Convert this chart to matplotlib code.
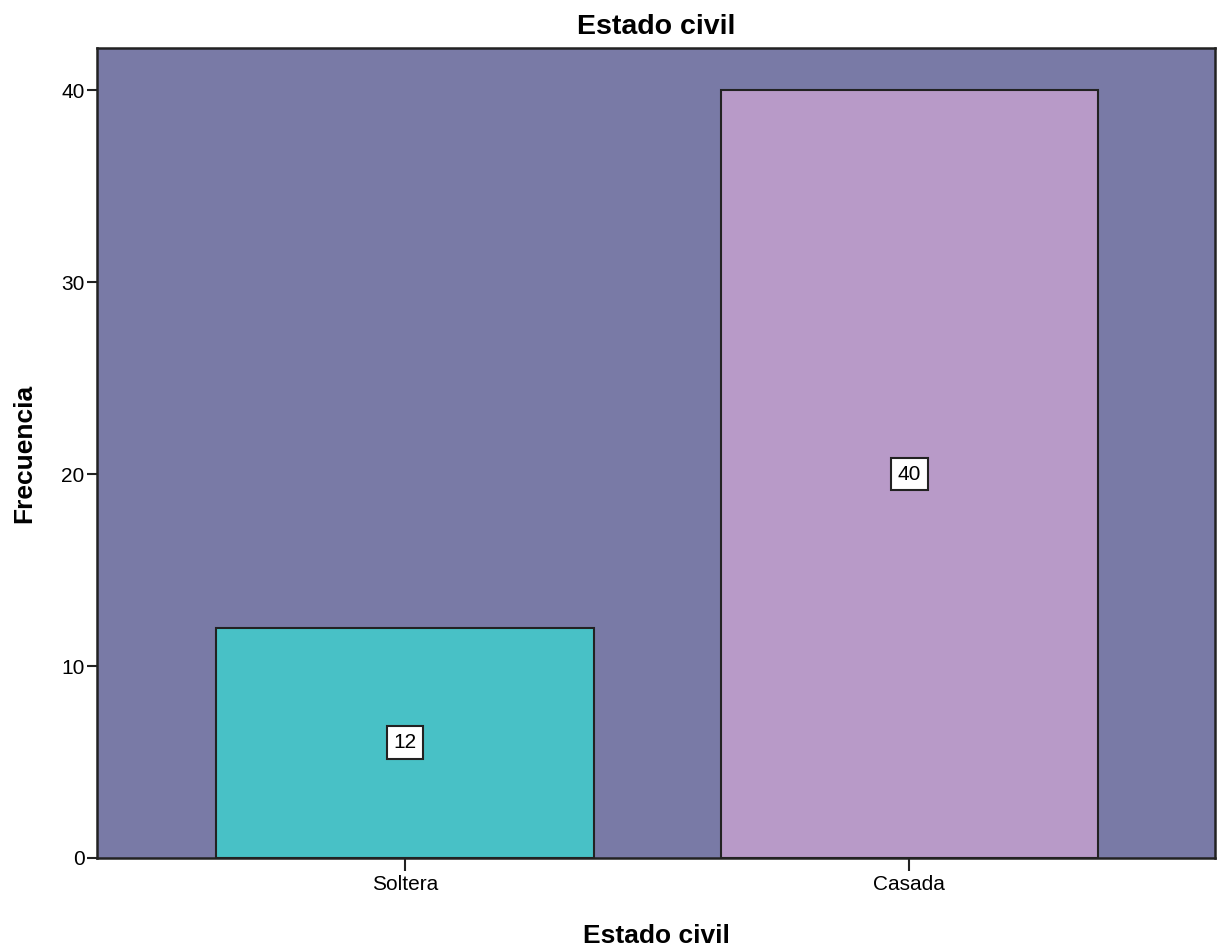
import numpy as np
import matplotlib.pyplot as plt

# Estado civil frequencies
categorias = ['Soltera', 'Casada']
frecuencias = [12, 40]
colores = ['#48c1c6', '#b89ac8']

plt.rcParams['font.family'] = ['Liberation Sans', 'DejaVu Sans']

fig = plt.figure(figsize=(12.22, 9.51), dpi=100)
ax = fig.add_axes([0.0794, 0.0978, 0.9149, 0.8517])
ax.set_facecolor('#797aa6')

x = np.arange(len(categorias))
bars = ax.bar(x, frecuencias, width=0.748, color=colores,
              edgecolor='#222222', linewidth=1.5, zorder=2)

# value labels in the middle of each bar
for xi, v in zip(x, frecuencias):
    ax.text(xi, v / 2, str(v), ha='center', va='center', fontsize=15,
            bbox=dict(boxstyle='square,pad=0.33', facecolor='white',
                      edgecolor='#222222', linewidth=1.5), zorder=3)

ax.set_xlim(-0.611, 1.607)
ax.set_ylim(0, 42.2)
ax.set_xticks(x)
ax.set_xticklabels(categorias)
ax.set_yticks([0, 10, 20, 30, 40])

ax.tick_params(axis='both', labelsize=15, width=1.5, color='#222222')
ax.tick_params(axis='y', length=7, pad=2)
ax.tick_params(axis='x', length=9, pad=3)

for s in ax.spines.values():
    s.set_linewidth(1.8)
    s.set_color('#222222')

ax.set_title('Estado civil', fontsize=20.5, fontweight='bold', pad=10)
ax.set_xlabel('Estado civil', fontsize=19, fontweight='bold', labelpad=22)
ax.set_ylabel('Frecuencia', fontsize=19, fontweight='bold', labelpad=18)

plt.savefig('out.png', dpi=100)
